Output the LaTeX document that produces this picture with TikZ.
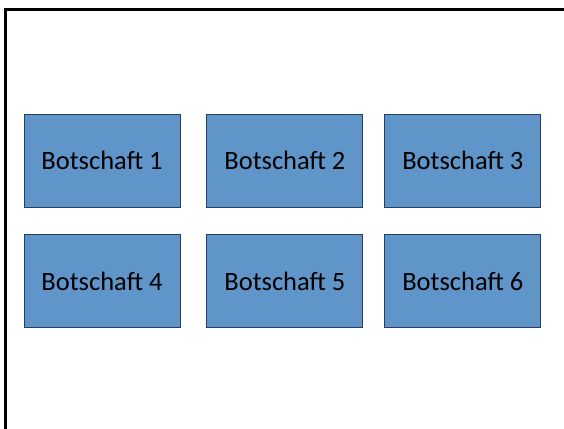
\documentclass[tikz,border=0pt]{standalone}
\usepackage{fontspec}
\setmainfont{Carlito}
\usetikzlibrary{positioning}
\definecolor{boxfill}{HTML}{5F95C9}
\definecolor{boxline}{HTML}{243F60}
\tikzset{
    botschaft/.style = {rectangle, draw=boxline, fill=boxfill, line width=0.9pt,
        minimum width=156pt, minimum height=93pt, inner sep=0pt,
        font=\fontsize{26.5}{30}\selectfont}
}
\begin{document}
\begin{tikzpicture}[x=1pt,y=-1pt]
    \useasboundingbox (0,0) rectangle (564,428);
    % frame, cut by the page on the right and at the bottom
    \draw [line width=3pt] (5,440) -- (5,10) -- (580,10);

    \node [botschaft] (b1) at (102,160.5) {Botschaft 1};
    \node [botschaft, right=26pt of b1] (b2) {Botschaft 2};
    \node [botschaft, right=21pt of b2] (b3) {Botschaft 3};
    \node [botschaft, below=26.5pt of b1] (b4) {Botschaft 4};
    \node [botschaft, right=26pt of b4] (b5) {Botschaft 5};
    \node [botschaft, right=21pt of b5] (b6) {Botschaft 6};
\end{tikzpicture}
\end{document}
